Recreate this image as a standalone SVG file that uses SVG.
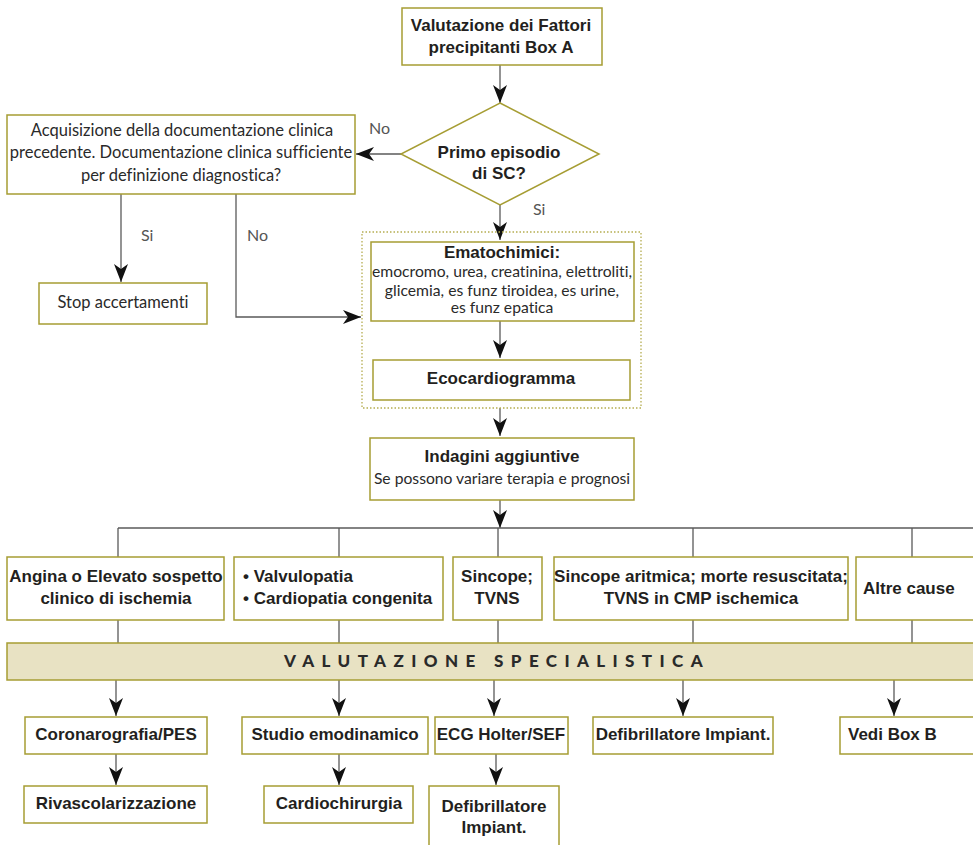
<svg xmlns="http://www.w3.org/2000/svg" width="973" height="845" viewBox="0 0 973 845">
  <style>
    .box { fill: #ffffff; stroke: #a69d33; stroke-width: 1.5; }
    .band { fill: #e8e2c3; stroke: #a69d33; stroke-width: 1.5; }
    .group { fill: none; stroke: #b5ad50; stroke-width: 1.3; stroke-dasharray: 1.5 2; }
    .ln { fill: none; stroke: #5a5a5a; stroke-width: 1.3; }
    .arr { fill: none; stroke: #5a5a5a; stroke-width: 1.3; marker-end: url(#ah); }
    text { fill: #231f20; text-anchor: middle; font-variant-ligatures: none; }
    .b { font-family: "Liberation Sans", Arial, sans-serif; font-weight: bold; font-size: 17px; }
    .r { font-family: Lato, "Liberation Sans", sans-serif; font-size: 15.7px; fill: #2a2a2a; }
    .rl { font-family: Lato, "Liberation Sans", sans-serif; font-size: 16.5px; fill: #2a2a2a; }
    .lbl { font-family: Lato, "Liberation Sans", sans-serif; font-size: 16px; fill: #555555; text-anchor: start; }
    .band-t { font-family: Lato, "Liberation Sans", sans-serif; font-weight: 900; font-size: 17px; letter-spacing: 7.4px; fill: #2a2a2a; }
  </style>
  <defs>
    <marker id="ah" markerUnits="userSpaceOnUse" viewBox="0 0 18 14" refX="18" refY="7" markerWidth="18" markerHeight="14" orient="auto">
      <path d="M0,0 L18,7 L0,14 L5,7 Z" fill="#111111"/>
    </marker>
  </defs>

  <!-- connectors -->
  <g id="connectors">
    <path class="arr" d="M500,65 V103"/>
    <path class="arr" d="M401,154 H356"/>
    <path class="arr" d="M121,194 V282"/>
    <path class="arr" d="M236,194 V317 H361"/>
    <path class="arr" d="M500,205 V240"/>
    <path class="arr" d="M500,321 V358"/>
    <path class="arr" d="M500,408 V436"/>
    <path class="arr" d="M500,500 V528"/>
    <path class="ln" d="M118,528 H973"/>
    <path class="ln" d="M118,528 V557 M339,528 V557 M498,528 V557 M693,528 V557 M912,528 V557"/>
    <path class="ln" d="M118,620 V643 M339,620 V643 M498,620 V643 M693,620 V643 M912,620 V643"/>
    <path class="arr" d="M116,680 V716"/>
    <path class="arr" d="M339,680 V716"/>
    <path class="arr" d="M494,680 V716"/>
    <path class="arr" d="M683,680 V716"/>
    <path class="arr" d="M894,680 V716"/>
    <path class="arr" d="M116,754 V785"/>
    <path class="arr" d="M339,754 V785"/>
    <path class="arr" d="M496,754 V785"/>
    <text class="lbl" x="369" y="134">No</text>
    <text class="lbl" x="533" y="215">Si</text>
    <text class="lbl" x="141" y="241">Si</text>
    <text class="lbl" x="247" y="241">No</text>
  </g>

  <g id="n-fattori">
    <rect class="box" x="402" y="8" width="200" height="57"/>
    <text class="b" x="501" y="31">Valutazione dei Fattori</text>
    <text class="b" x="501" y="53">precipitanti Box A</text>
  </g>

  <g id="n-primo">
    <polygon class="box" points="500,103 599,154 500,205 401,154"/>
    <text class="b" x="499" y="158">Primo episodio</text>
    <text class="b" x="499" y="179">di SC?</text>
  </g>

  <g id="n-documentazione">
    <rect class="box" x="7" y="115" width="348" height="79"/>
    <text class="rl" x="182" y="136">Acquisizione della documentazione clinica</text>
    <text class="rl" x="181" y="158">precedente. Documentazione clinica sufficiente</text>
    <text class="rl" x="181" y="181">per definizione diagnostica?</text>
  </g>

  <g id="n-stop">
    <rect class="box" x="39" y="283" width="168" height="41"/>
    <text class="rl" x="123" y="308">Stop accertamenti</text>
  </g>

  <g id="n-esami">
    <rect class="group" x="362" y="232" width="279" height="176"/>
    <g id="n-ematochimici">
      <rect class="box" x="371" y="242" width="263" height="79"/>
      <text class="b" x="502" y="258">Ematochimici:</text>
      <text class="r" x="502" y="277">emocromo, urea, creatinina, elettroliti,</text>
      <text class="r" x="502" y="296">glicemia, es funz tiroidea, es urine,</text>
      <text class="r" x="502" y="313">es funz epatica</text>
    </g>
    <g id="n-eco">
      <rect class="box" x="373" y="360" width="257" height="40"/>
      <text class="b" x="501" y="384">Ecocardiogramma</text>
    </g>
  </g>

  <g id="n-indagini">
    <rect class="box" x="370" y="438" width="264" height="62"/>
    <text class="b" x="502" y="462">Indagini aggiuntive</text>
    <text class="r" x="502" y="484">Se possono variare terapia e prognosi</text>
  </g>

  <g id="n-angina">
    <rect class="box" x="7" y="557" width="217" height="63"/>
    <text class="b" x="116" y="582">Angina o Elevato sospetto</text>
    <text class="b" x="116" y="604">clinico di ischemia</text>
  </g>
  <g id="n-valvulopatia">
    <rect class="box" x="234" y="557" width="209" height="63"/>
    <text class="b" x="243" y="582" style="text-anchor:start">• Valvulopatia</text>
    <text class="b" x="243" y="604" style="text-anchor:start">• Cardiopatia congenita</text>
  </g>
  <g id="n-sincope">
    <rect class="box" x="453" y="557" width="89" height="63"/>
    <text class="b" x="497" y="582">Sincope;</text>
    <text class="b" x="497" y="604">TVNS</text>
  </g>
  <g id="n-aritmica">
    <rect class="box" x="554" y="557" width="294" height="63"/>
    <text class="b" x="701" y="582">Sincope aritmica; morte resuscitata;</text>
    <text class="b" x="701" y="604">TVNS in CMP ischemica</text>
  </g>
  <g id="n-altre">
    <rect class="box" x="856" y="557" width="130" height="63"/>
    <text class="b" x="863" y="594" style="text-anchor:start">Altre cause</text>
  </g>

  <g id="n-valutazione">
    <rect class="band" x="7" y="643" width="980" height="37"/>
    <text class="band-t" x="497" y="667">VALUTAZIONE SPECIALISTICA</text>
  </g>

  <g id="n-coronarografia">
    <rect class="box" x="25" y="717" width="182" height="37"/>
    <text class="b" x="116" y="740">Coronarografia/PES</text>
  </g>
  <g id="n-studio">
    <rect class="box" x="242" y="717" width="186" height="37"/>
    <text class="b" x="335" y="740">Studio emodinamico</text>
  </g>
  <g id="n-holter">
    <rect class="box" x="435" y="717" width="133" height="37"/>
    <text class="b" x="501" y="740">ECG Holter/SEF</text>
  </g>
  <g id="n-defib1">
    <rect class="box" x="593" y="717" width="180" height="37"/>
    <text class="b" x="683" y="740">Defibrillatore Impiant.</text>
  </g>
  <g id="n-boxb">
    <rect class="box" x="840" y="717" width="150" height="37"/>
    <text class="b" x="848" y="740" style="text-anchor:start">Vedi Box B</text>
  </g>

  <g id="n-rivascolarizzazione">
    <rect class="box" x="24" y="786" width="183" height="37"/>
    <text class="b" x="116" y="809">Rivascolarizzazione</text>
  </g>
  <g id="n-cardiochirurgia">
    <rect class="box" x="264" y="786" width="149" height="37"/>
    <text class="b" x="339" y="809">Cardiochirurgia</text>
  </g>
  <g id="n-defib2">
    <rect class="box" x="429" y="786" width="130" height="70"/>
    <text class="b" x="494" y="812">Defibrillatore</text>
    <text class="b" x="494" y="833">Impiant.</text>
  </g>
</svg>
